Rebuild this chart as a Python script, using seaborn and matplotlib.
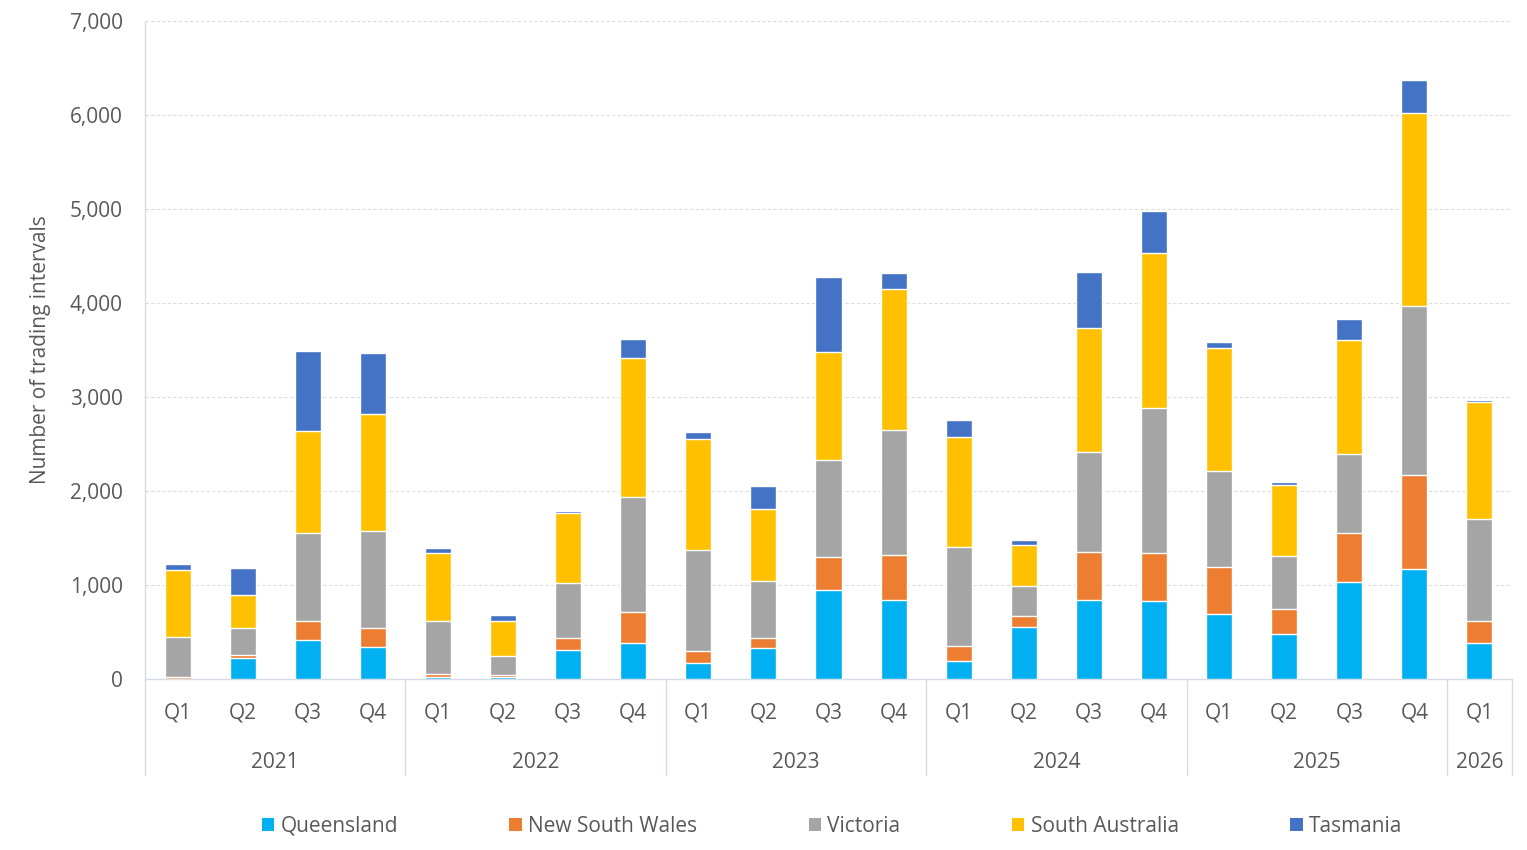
import numpy as np
import pandas as pd
import matplotlib.pyplot as plt
import matplotlib.transforms as mtransforms
from matplotlib.patches import Patch
from matplotlib.ticker import FuncFormatter
import seaborn as sns

# Values (number of trading intervals per quarter)
years = ['2021', '2022', '2023', '2024', '2025', '2026']
quarters_per_year = [4, 4, 4, 4, 4, 1]
quarters = ['Q1', 'Q2', 'Q3', 'Q4'] * 5 + ['Q1']

queensland = [5, 220, 412, 337, 21, 25, 305, 379, 167, 326, 943, 837,
              188, 553, 837, 826, 691, 476, 1027, 1166, 379]
new_south_wales = [12, 32, 202, 202, 32, 14, 128, 330, 127, 107, 351, 479,
                   160, 114, 514, 511, 496, 273, 522, 1002, 236]
victoria = [430, 291, 936, 1032, 561, 206, 585, 1224, 1075, 606, 1032, 1330,
            1053, 319, 1064, 1543, 1024, 556, 843, 1798, 1082]
south_australia = [717, 347, 1088, 1248, 726, 372, 748, 1478, 1184, 770, 1153, 1503,
                   1173, 440, 1319, 1652, 1309, 758, 1212, 2055, 1255]
tasmania = [63, 287, 848, 646, 50, 61, 18, 203, 71, 241, 794, 167,
            178, 49, 596, 443, 63, 34, 223, 354, 16]

states = ['Queensland', 'New South Wales', 'Victoria', 'South Australia', 'Tasmania']
colors = ['#00B0F0', '#ED7D31', '#A5A5A5', '#FFC000', '#4472C4']

# Builds the table with a unique period key and cumulative tops per state
periods = []
for y, n in zip(years, quarters_per_year):
    for q in ['Q1', 'Q2', 'Q3', 'Q4'][:n]:
        periods.append(y + ' ' + q)
df = pd.DataFrame({'period': periods,
                   'Queensland': queensland,
                   'New South Wales': new_south_wales,
                   'Victoria': victoria,
                   'South Australia': south_australia,
                   'Tasmania': tasmania})
cum = df[states].cumsum(axis=1)
cum['period'] = df['period']

sns.set_theme(style='white')
plt.rcParams['font.family'] = ['Open Sans', 'DejaVu Sans']
text_col = '#595959'
line_col = '#D6DCE5'

fig = plt.figure(figsize=(15.27, 8.5), dpi=100)
ax = fig.add_axes([145 / 1527, 1 - 679 / 850, 1367 / 1527, 658 / 850])

# Stacked bars: draw cumulative totals from top layer down so each covers the one above
for state, col in reversed(list(zip(states, colors))):
    sns.barplot(data=cum, x='period', y=state, color=col, saturation=1,
                width=0.4, errorbar=None, ax=ax, zorder=3)

ax.set_xlim(-0.5, len(periods) - 0.5)
ax.set_ylim(0, 7000)
ax.set_yticks(np.arange(0, 7001, 1000))
ax.yaxis.set_major_formatter(FuncFormatter(lambda v, p: f'{int(v):,}'))
ax.yaxis.grid(True, color='#DDDDDD', linestyle=(0, (3, 2)), linewidth=0.8, zorder=0)
ax.set_axisbelow(True)

ax.set_xticks(range(len(periods)))
ax.set_xticklabels(quarters)
ax.tick_params(axis='x', length=0, pad=17, labelsize=15, labelcolor=text_col)
ax.tick_params(axis='y', length=0, pad=16, labelsize=15, labelcolor=text_col)
ax.set_xlabel('')
ax.set_ylabel('Number of trading intervals', fontsize=15, color=text_col)
ax.yaxis.set_label_coords((51 - 145) / 1367, 0.5)

for s in ['top', 'right']:
    ax.spines[s].set_visible(False)
for s in ['left', 'bottom']:
    ax.spines[s].set_color(line_col)
    ax.spines[s].set_linewidth(1)

# Year group labels and separators under the quarter labels
trans = mtransforms.blended_transform_factory(ax.transData, ax.transAxes)
start = 0
bounds = [-0.5]
for y, n in zip(years, quarters_per_year):
    center = start + (n - 1) / 2
    ax.text(center, (679 - 762) / 658, y, transform=trans, ha='center', va='center',
            fontsize=15, color=text_col)
    start += n
    bounds.append(start - 0.5)
for b in bounds:
    ax.plot([b, b], [0, (679 - 775) / 658], transform=trans, color=line_col,
            linewidth=1, clip_on=False)

handles = [Patch(facecolor=c, edgecolor='none', label=s) for s, c in zip(states, colors)]
fig.legend(handles=handles, loc='center', bbox_to_anchor=(832 / 1527, 1 - 826 / 850),
           ncol=5, frameon=False, fontsize=15, handlelength=0.6, handleheight=0.6,
           handletextpad=0.3, columnspacing=5.35, labelcolor=text_col)

fig.savefig('out.png', dpi=100)
